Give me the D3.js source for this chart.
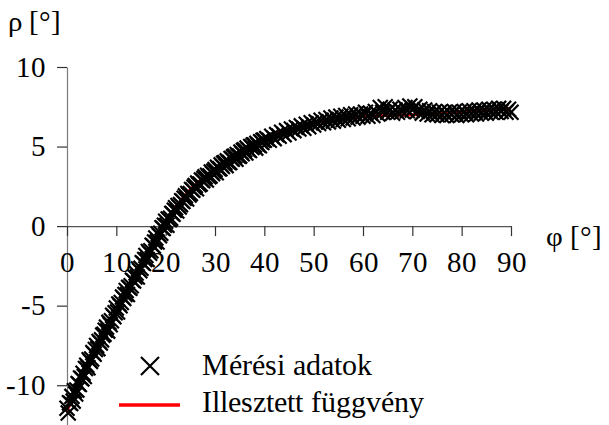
<!DOCTYPE html>
<html>
<head>
<meta charset="utf-8">
<script src="https://cdn.jsdelivr.net/npm/d3@7"></script>
<style>
  @font-face {
    font-family: "ChartSerif";
    src: local("Liberation Serif"), local("LiberationSerif"), local("LiberationSerif-Regular"),
         local("Times New Roman"), local("TimesNewRomanPSMT"), local("Tinos"),
         local("DejaVu Serif"), local("DejaVuSerif"), local("Noto Serif"), local("FreeSerif");
  }
  body { margin: 0; background: #fff; }
  svg { display: block; }
  svg text {
    font-family: "ChartSerif", "Liberation Serif", "Times New Roman", Times, Tinos, "DejaVu Serif", "Noto Serif", FreeSerif, serif !important;
  }
</style>
</head>
<body>
<svg id="chart" width="609" height="425"></svg>
<script>
// Measured angles φ [°]
const phi = [
  0, 0.25, 0.5, 0.75, 1, 1.25, 1.5, 1.75, 2, 2.25, 2.5, 2.75, 3, 3.25, 3.5, 3.75, 4, 4.25, 4.5, 4.75,
  5, 5.25, 5.5, 5.75, 6, 6.25, 6.5, 6.75, 7, 7.25, 7.5, 7.75, 8, 8.25, 8.5, 8.75, 9, 9.25, 9.5, 9.75,
  10, 10.25, 10.5, 10.75, 11, 11.25, 11.5, 11.75, 12, 12.25, 12.5, 12.75, 13, 13.25, 13.5, 13.75, 14, 14.25, 14.5, 14.75,
  15, 15.25, 15.5, 15.75, 16, 16.25, 16.5, 16.75, 17, 17.25, 17.5, 17.75, 18, 18.25, 18.5, 18.75, 19, 19.25, 19.5, 19.75,
  20, 20.25, 20.5, 20.75, 21, 21.25, 21.5, 21.75, 22, 22.25, 22.5, 22.75, 23, 23.25, 23.5, 23.75, 24, 24.25, 24.5, 24.75,
  25, 25.25, 25.5, 25.75, 26, 26.25, 26.5, 26.75, 27, 27.25, 27.5, 27.75, 28, 28.25, 28.5, 28.75, 29, 29.25, 29.5, 29.75,
  30, 30.25, 30.5, 30.75, 31, 31.25, 31.5, 31.75, 32, 32.25, 32.5, 32.75, 33, 33.25, 33.5, 33.75, 34, 34.25, 34.5, 34.75,
  35, 35.25, 35.5, 35.75, 36, 36.25, 36.5, 36.75, 37, 37.25, 37.5, 37.75, 38, 38.25, 38.5, 38.75, 39, 39.25, 39.5, 39.75,
  40, 40.5, 41, 41.5, 42, 42.5, 43, 43.5, 44, 44.5, 45, 45.5, 46, 46.5, 47, 47.5, 48, 48.5, 49, 49.5,
  50, 50.5, 51, 51.5, 52, 52.5, 53, 53.5, 54, 54.5, 55, 55.5, 56, 56.5, 57, 57.5, 58, 58.5, 59, 59.5,
  60, 60.5, 61, 61.5, 62, 62.5, 63, 63.5, 64, 64.5, 65, 65.5, 66, 66.5, 67, 67.5, 68, 68.5, 69, 69.5,
  70, 70.5, 71, 71.5, 72, 72.5, 73, 73.5, 74, 74.5, 75, 75.5, 76, 76.5, 77, 77.5, 78, 78.5, 79, 79.5,
  80, 80.5, 81, 81.5, 82, 82.5, 83, 83.5, 84, 84.5, 85, 85.5, 86, 86.5, 87, 87.5, 88, 88.5, 89, 89.5,
  90
];

// Measured angles ρ [°]
const rho = [
  -11.45, -11.75, -11.1, -11.15, -10.7, -11.0, -10.35, -10.55, -10.3, -9.9, -9.95, -9.55, -9.6, -9.25, -9.45, -8.95, -8.75, -8.9, -8.4, -8.5,
  -8.35, -7.95, -8.05, -7.75, -7.5, -7.7, -7.25, -7.35, -7.15, -6.85, -6.8, -6.55, -6.35, -6.6, -6.05, -6.2, -5.95, -5.6, -5.7, -5.45,
  -5.15, -5.4, -4.9, -5.0, -4.8, -4.45, -4.55, -4.3, -4.05, -4.3, -3.85, -3.9, -3.75, -3.4, -3.45, -3.2, -2.95, -3.2, -2.7, -2.8,
  -2.65, -2.3, -2.35, -2.1, -1.85, -2.1, -1.6, -1.7, -1.55, -1.2, -1.25, -1.0, -0.75, -1.0, -0.5, -0.6, -0.45, -0.1, -0.15, 0.05,
  0.3, 0.05, 0.45, 0.4, 0.5, 0.8, 0.75, 1.0, 1.15, 0.95, 1.3, 1.2, 1.35, 1.6, 1.55, 1.75, 1.9, 1.7, 2.05, 1.95,
  2.05, 2.3, 2.25, 2.45, 2.55, 2.35, 2.7, 2.6, 2.65, 2.9, 2.85, 3.0, 3.1, 2.9, 3.2, 3.1, 3.15, 3.4, 3.3, 3.45,
  3.55, 3.35, 3.7, 3.6, 3.6, 3.85, 3.75, 3.95, 4.0, 3.8, 4.1, 4.0, 4.0, 4.25, 4.2, 4.35, 4.4, 4.2, 4.5, 4.4,
  4.4, 4.65, 4.55, 4.75, 4.8, 4.6, 4.9, 4.8, 4.75, 5.0, 4.95, 5.1, 5.1, 4.9, 5.2, 5.1, 5.05, 5.3, 5.25, 5.4,
  5.4, 5.5, 5.4, 5.65, 5.5, 5.75, 5.65, 5.9, 5.75, 6.0, 5.85, 6.1, 6.0, 6.2, 6.1, 6.3, 6.15, 6.4, 6.25, 6.5,
  6.35, 6.55, 6.45, 6.65, 6.5, 6.7, 6.55, 6.8, 6.6, 6.85, 6.65, 6.9, 6.7, 6.95, 6.75, 7.0, 6.8, 7.05, 6.85, 7.05,
  6.9, 7.15, 6.9, 7.1, 6.95, 7.2, 7.05, 7.45, 7.15, 7.5, 7.15, 7.35, 7.1, 7.3, 7.15, 7.35, 7.2, 7.45, 7.25, 7.55,
  7.3, 7.5, 7.2, 7.35, 7.1, 7.3, 7.05, 7.25, 7.0, 7.2, 7.0, 7.15, 6.95, 7.15, 6.95, 7.15, 7.0, 7.2, 6.95, 7.15,
  7.0, 7.2, 7.0, 7.25, 7.05, 7.25, 7.05, 7.3, 7.1, 7.3, 7.1, 7.35, 7.15, 7.35, 7.15, 7.4, 7.2, 7.4, 7.15, 7.35,
  7.15
];

// Fitted function sampled along φ
const fitPhi = [0, 5, 10, 15, 20, 25, 30, 35, 40, 45, 50, 55, 60, 65, 70, 75, 80, 85, 90];
const fitRho = [-11.6, -8.4, -5.4, -2.55, 0.3, 2.3, 3.6, 4.65, 5.55, 6.1, 6.5, 6.75, 6.9, 6.95, 7.0, 7.1, 7.2, 7.3, 7.4];

const xTicks = [0, 10, 20, 30, 40, 50, 60, 70, 80, 90];
const yTicks = [10, 5, 0, -5, -10];
const xTitle = "φ [°]";
const yTitle = "ρ [°]";
const legendLabels = ["Mérési adatok", "Illesztett függvény"];

const tickFont = 29;

const svg = d3.select("#chart");

const x = d3.scaleLinear().domain([0, 90]).range([67, 511]);
const y = d3.scaleLinear().domain([-12.5, 10]).range([425, 67]);

// Plain hyphen for negative tick labels
const fmt = d => String(d);

// Y axis along φ = 0
const yAxis = svg.append("g")
  .attr("transform", `translate(${x(0)},0)`)
  .call(d3.axisLeft(y).tickValues(yTicks).tickSize(10).tickSizeOuter(0).tickPadding(11).tickFormat(fmt));
yAxis.select(".domain").attr("stroke", "#7a7a7a").attr("stroke-width", 1.2);
yAxis.selectAll(".tick line").attr("stroke", "#333").attr("stroke-width", 1.2);
yAxis.selectAll(".tick text").attr("font-size", tickFont).attr("fill", "#000");

// X axis along ρ = 0
const xAxis = svg.append("g")
  .attr("transform", `translate(0,${y(0)})`)
  .call(d3.axisBottom(x).tickValues(xTicks).tickSize(10).tickSizeOuter(0).tickFormat(fmt));
xAxis.select(".domain").attr("stroke", "#555").attr("stroke-width", 1.2);
xAxis.selectAll(".tick line").attr("stroke", "#333").attr("stroke-width", 1.2);
xAxis.selectAll(".tick text").attr("font-size", tickFont).attr("fill", "#000")
  .attr("y", 46).attr("dy", null);

// Axis titles
svg.append("text").attr("x", 8).attr("y", 31).attr("font-size", tickFont).text(yTitle);
svg.append("text").attr("x", 546).attr("y", 246).attr("font-size", tickFont).text(xTitle);

// Fitted curve
const line = d3.line().x((d, i) => x(fitPhi[i])).y((d, i) => y(fitRho[i])).curve(d3.curveMonotoneX);
svg.append("path").datum(fitRho).attr("d", line)
  .attr("fill", "none").attr("stroke", "#ff0000").attr("stroke-width", 3);

// Measured points as × markers
const cross = s => `M${-s},${-s}L${s},${s}M${-s},${s}L${s},${-s}`;
svg.append("g").selectAll("path").data(rho).join("path")
  .attr("transform", (d, i) => `translate(${x(phi[i])},${y(d)})`)
  .attr("d", cross(7.5))
  .attr("fill", "none").attr("stroke", "#000").attr("stroke-width", 2.2);

// Legend
const lg = svg.append("g");
lg.append("path").attr("transform", "translate(150,366)").attr("d", cross(9))
  .attr("fill", "none").attr("stroke", "#000").attr("stroke-width", 2.2);
lg.append("line").attr("x1", 119).attr("x2", 180).attr("y1", 405).attr("y2", 405)
  .attr("stroke", "#ff0000").attr("stroke-width", 3.5);
lg.append("text").attr("x", 202).attr("y", 375).attr("font-size", 30).text(legendLabels[0]);
lg.append("text").attr("x", 202).attr("y", 412).attr("font-size", 30).text(legendLabels[1]);
</script>
</body>
</html>
